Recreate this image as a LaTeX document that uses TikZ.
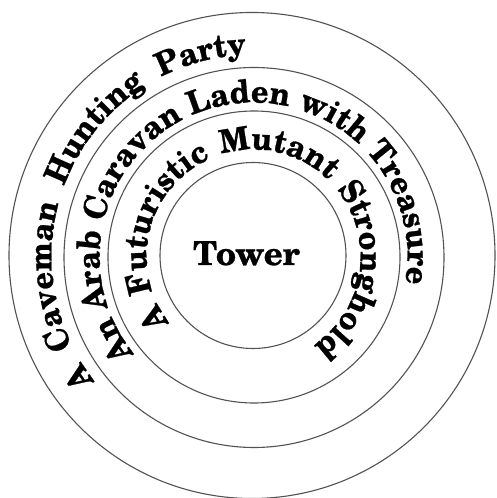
\documentclass[tikz,border=0pt]{standalone}
\usepackage{fontspec}
\setmainfont{TeX Gyre Schola}
\newfontfamily\ringfont[FakeStretch=0.95,FakeBold=0.8]{TeX Gyre Schola}
\newfontfamily\towerfont[FakeBold=0.8]{TeX Gyre Schola}
\usetikzlibrary{decorations.text}
\begin{document}
\begin{tikzpicture}[x=1pt,y=1pt,
  ring/.style={draw=black!68, line width=1.1pt},
  ringtext/.style={decorate, decoration={text along path,
      text align={fit to path stretching spaces},
      text={|\ringfont\fontsize{32}{36}\bfseries\selectfont|#1}}}]
\useasboundingbox (0,0) rectangle (497,498);
\coordinate (c1) at (252,242.5);
\coordinate (c2) at (254,240.5);
\coordinate (c3) at (254,241);
\coordinate (c4) at (253,242.5);
\coordinate (ct) at (253.5,241.5);
\draw[ring] (c1) circle[radius=243];
\draw[ring] (c2) circle[radius=190];
\draw[ring] (c3) circle[radius=146];
\draw[ring] (c4) circle[radius=93];
\path[ringtext={A Caveman Hunting Party}] (ct) ++(218:202) arc[start angle=218, end angle=92, radius=202];
\path[ringtext={An Arab Caravan Laden with Treasure}] (ct) ++(219:154) arc[start angle=219, end angle=-10, radius=154];
\path[ringtext={A Futuristic Mutant Stronghold}] (ct) ++(218:107) arc[start angle=218, end angle=-56, radius=107];
\node[anchor=base, font=\towerfont\fontsize{33}{36}\bfseries\selectfont, inner sep=0pt] (tower) at (246.5,233) {Tower};
\end{tikzpicture}
\end{document}
